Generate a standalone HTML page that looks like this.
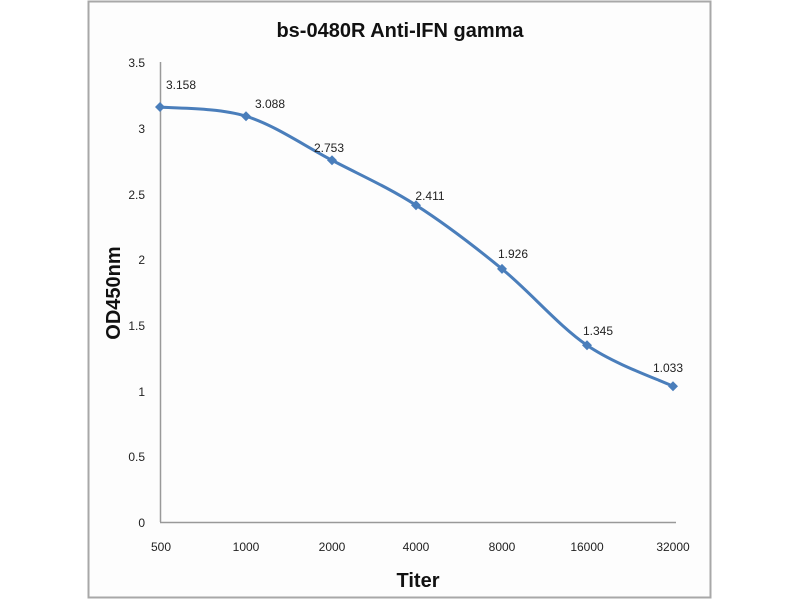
<!DOCTYPE html>
<html><head><meta charset="utf-8"><style>
html,body{margin:0;padding:0;background:#fff;}
svg{display:block;font-family:"Liberation Sans",sans-serif;}
</style></head><body>
<svg id="s" width="800" height="600" xmlns="http://www.w3.org/2000/svg">
<rect x="88.5" y="1.5" width="622" height="596" fill="#fdfdfd" stroke="#a8a8a8" stroke-width="2"/>
<text x="400" y="37" text-anchor="middle" font-size="20" font-weight="bold" fill="#111">bs-0480R  Anti-IFN gamma</text>
<line x1="160.5" y1="62" x2="160.5" y2="522" stroke="#999" stroke-width="1.5"/>
<line x1="160" y1="522.5" x2="676" y2="522.5" stroke="#999" stroke-width="1.5"/>
<g font-size="12" fill="#222" text-anchor="end">
<text x="145" y="67">3.5</text><text x="145" y="133">3</text><text x="145" y="199">2.5</text>
<text x="145" y="264">2</text><text x="145" y="330">1.5</text><text x="145" y="396">1</text>
<text x="145" y="461">0.5</text><text x="145" y="527">0</text>
</g>
<g font-size="12" fill="#222" text-anchor="middle">
<text x="161" y="551">500</text><text x="246" y="551">1000</text><text x="332" y="551">2000</text>
<text x="416" y="551">4000</text><text x="502" y="551">8000</text><text x="587" y="551">16000</text>
<text x="673" y="551">32000</text>
</g>
<text x="418" y="587" text-anchor="middle" font-size="20" font-weight="bold" fill="#111">Titer</text>
<text transform="translate(120,293) rotate(-90)" text-anchor="middle" font-size="20" font-weight="bold" fill="#111">OD450nm</text>
<path id="p" fill="none" stroke="#4a7ebb" stroke-width="3"/>
<g id="m" fill="#4a7ebb"></g>
<g font-size="12" fill="#222" text-anchor="middle">
<text x="181" y="89">3.158</text>
<text x="270" y="108">3.088</text>
<text x="329" y="152">2.753</text>
<text x="430" y="200">2.411</text>
<text x="513" y="258">1.926</text>
<text x="598" y="335">1.345</text>
<text x="668" y="372">1.033</text>
</g>
</svg>
<script>
var xs=[160,246,332,416,502,587,673],vs=[3.158,3.088,2.753,2.411,1.926,1.345,1.033];
var pts=xs.map(function(x,i){return [x,522-vs[i]*131.4];});
var d="M"+pts[0][0]+","+pts[0][1];
for(var i=0;i<pts.length-1;i++){var p0=pts[i-1]||pts[i],p1=pts[i],p2=pts[i+1],p3=pts[i+2]||p2;
d+=" C"+(p1[0]+(p2[0]-p0[0])/6)+","+(p1[1]+(p2[1]-p0[1])/6)+" "+(p2[0]-(p3[0]-p1[0])/6)+","+(p2[1]-(p3[1]-p1[1])/6)+" "+p2[0]+","+p2[1];}
document.getElementById("p").setAttribute("d",d);
var m="";
pts.forEach(function(p){m+='<path d="M'+p[0]+','+(p[1]-5)+' l5,5 l-5,5 l-5,-5z"/>';});
document.getElementById("m").innerHTML=m;
</script>
</body></html>
